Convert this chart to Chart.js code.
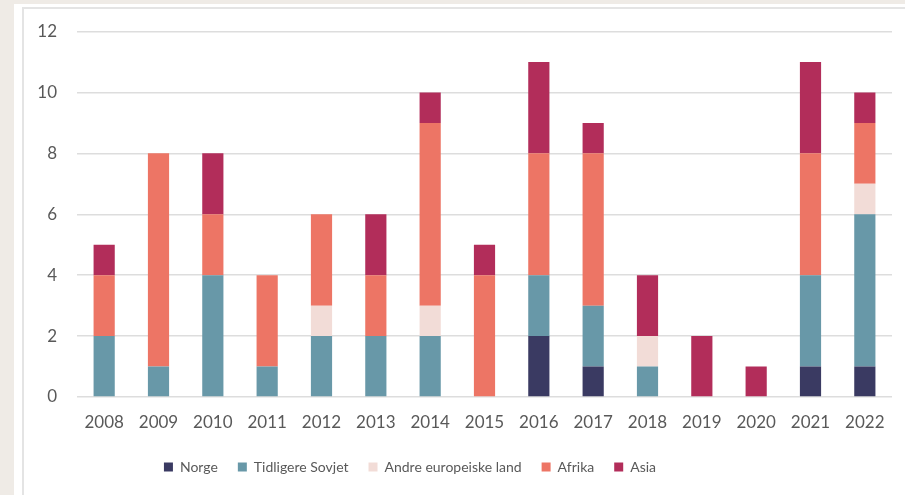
<!DOCTYPE html>
<html>
<head>
<meta charset="utf-8">
<script src="https://cdn.jsdelivr.net/npm/chart.js@4"></script>
<style>
  html, body { margin: 0; padding: 0; width: 905px; height: 495px; overflow: hidden; background: #efebe6; }
  #panel { position: absolute; left: 14px; top: 4px; width: 891px; height: 491px; background: #ffffff; }
  #inner { position: absolute; left: 22px; top: 7px; width: 883px; height: 488px; border-left: 2px solid #e4e4e4; border-top: 2px solid #e4e4e4; background: #fff; }
  #wrap { position: absolute; left: 0; top: 0; width: 905px; height: 495px; }
</style>
</head>
<body>
<div id="panel"></div>
<div id="inner"></div>
<div id="wrap"><canvas id="c" width="905" height="495"></canvas></div>
<script>
const years = ['2008','2009','2010','2011','2012','2013','2014','2015','2016','2017','2018','2019','2020','2021','2022'];
const norge           = [0,0,0,0,0,0,0,0,2,1,0,0,0,1,1];
const tidligereSovjet = [2,1,4,1,2,2,2,0,2,2,1,0,0,3,5];
const andreEuropeiske = [0,0,0,0,1,0,1,0,0,0,1,0,0,0,1];
const afrika          = [2,7,2,3,3,2,6,4,4,5,0,0,0,4,2];
const asia            = [1,0,2,0,0,2,1,1,3,1,2,2,1,3,1];
const yTicks = [0,2,4,6,8,10,12];

const seriesNames = ['Norge','Tidligere Sovjet','Andre europeiske land','Afrika','Asia'];
const seriesData = [norge, tidligereSovjet, andreEuropeiske, afrika, asia];
const seriesColors = ['#3a3a62','#6898a8','#f2dcd7','#ed7565','#b22d5a'];

const FONT = 'Lato, "Open Sans", sans-serif';

const shiftLegend = {
  id: 'shiftLegend',
  afterLayout(chart) {
    const l = chart.legend;
    if (l) { l.left -= 51; l.right -= 51; }
  }
};

new Chart(document.getElementById('c'), {
  type: 'bar',
  data: {
    labels: years,
    datasets: seriesNames.map((n, i) => ({
      label: n,
      data: seriesData[i],
      backgroundColor: seriesColors[i],
      borderWidth: 0,
      barPercentage: 0.39,
      categoryPercentage: 1.0
    }))
  },
  plugins: [shiftLegend],
  options: {
    responsive: false,
    animation: false,
    devicePixelRatio: 1,
    layout: { padding: { left: 30, right: 13, top: 31.5, bottom: 11 } },
    plugins: {
      legend: {
        position: 'bottom',
        labels: {
          boxWidth: 9, boxHeight: 9, padding: 20,
          color: '#595959',
          font: { family: FONT, size: 14 }
        }
      },
      tooltip: { enabled: false }
    },
    scales: {
      x: {
        stacked: true,
        grid: { display: false, drawTicks: false },
        border: { display: false },
        ticks: { color: '#595959', font: { family: FONT, size: 17 }, padding: 15 },
        afterFit: s => { s.height = 43; }
      },
      y: {
        stacked: true,
        min: 0, max: 12,
        afterBuildTicks: s => { s.ticks = yTicks.map(v => ({ value: v })); },
        grid: { color: '#dddddd', lineWidth: 1.5, drawTicks: false },
        border: { display: false },
        ticks: { color: '#595959', font: { family: FONT, size: 17 }, padding: 20 },
        afterFit: s => { s.width = 47; }
      }
    }
  }
});
</script>
</body>
</html>
